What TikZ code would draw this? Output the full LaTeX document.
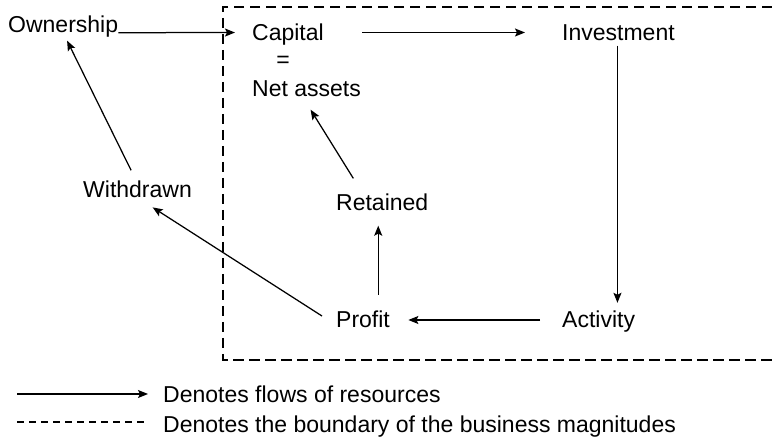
\documentclass[tikz,border=0pt]{standalone}
\usepackage{fontspec}
\setmainfont{Liberation Sans}
\usetikzlibrary{arrows.meta}

\begin{document}
\begin{tikzpicture}[x=1pt,y=-1pt,
  lbl/.style={anchor=west,inner sep=0pt,text height=16pt,text depth=0pt,font=\fontsize{23}{27}\selectfont},
  flow/.style={line width=1.25pt,-{Stealth[length=10pt,width=8pt,inset=2pt]}},
  bound/.style={line width=1.2pt,dash pattern=on 10.5pt off 5.5pt}]
\useasboundingbox (0,0) rectangle (772,438);
% boundary of the business, open on the right
\draw[bound] (772,7) -- (223,7) -- (223,360) -- (772,360);
\node[lbl] (own) at (8,24.5) {Ownership};
\node[lbl] (cap) at (252,32.5) {Capital};
\node[lbl,anchor=center] (eq) at (283,60) {=};
\node[lbl] (net) at (252,88.5) {Net assets};
\node[lbl] (inv) at (562,32.5) {Investment};
\node[lbl] (act) at (562,320) {Activity};
\node[lbl] (prof) at (336,320) {Profit};
\node[lbl] (ret) at (336,202.5) {Retained};
\node[lbl] (wd) at (83,189.5) {Withdrawn};
% flows
\draw[flow,shorten >=17pt] (own.south east) -- (cap.west);
\draw[flow,shorten <=38.5pt,shorten >=37pt] (cap.east) -- (inv.west);
\draw[flow,shorten <=5pt,shorten >=9pt] ([xshift=-1pt]inv.south) -- ([xshift=-1pt]inv.south |- act.north);
\draw[flow,shorten <=22pt,shorten >=18.3pt] (act.west) -- (prof.east);
\draw[flow,shorten <=17pt,shorten >=15pt] ([xshift=-4pt]ret.south |- prof.north) -- ([xshift=-4pt]ret.south);
\draw[flow,shorten <=18.7pt,shorten >=15.3pt] ([xshift=-19pt]ret.north) -- ([xshift=-4pt]net.south);
\draw[flow,shorten <=16.6pt,shorten >=18pt] ([yshift=-5pt]prof.west) -- (wd.south);
\draw[flow,shorten <=12.3pt,shorten >=8.9pt] ([xshift=-1pt]wd.north) -- (own.south);
% key
\coordinate (fa) at (17,394);
\coordinate (fb) at (148,394);
\draw[flow] (fa) -- (fb);
\node[lbl] (flowtxt) at (163,394.5) {Denotes flows of resources};
\coordinate (ba) at (17,422);
\coordinate (bb) at (148,422);
\draw[bound,dash pattern=on 7pt off 5pt] (ba) -- (bb);
\node[lbl] (boundtxt) at (163,424.5) {Denotes the boundary of the business magnitudes};
\end{tikzpicture}
\end{document}
